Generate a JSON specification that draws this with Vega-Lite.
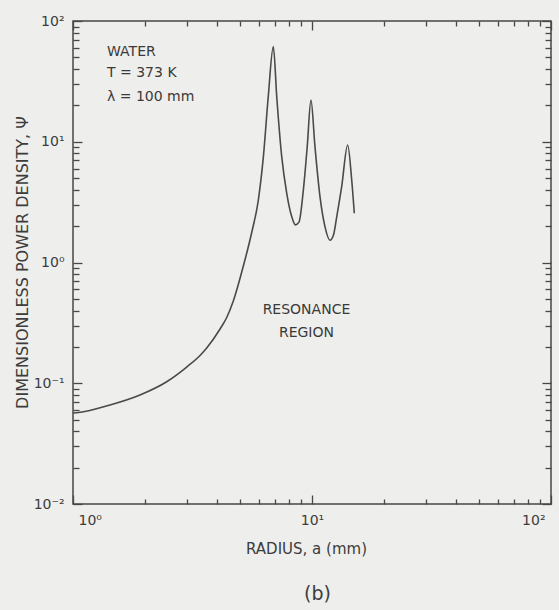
{
  "$schema": "https://vega.github.io/schema/vega-lite/v6.json",
  "width": 478,
  "height": 483,
  "autosize": {"type": "none"},
  "padding": {"left": 73, "top": 21, "right": 8, "bottom": 106},
  "background": "#eeeeec",
  "config": {
    "view": {"stroke": "#474747", "strokeWidth": 1.5},
    "font": "DejaVu Sans",
    "axis": {
      "domain": false,
      "grid": false,
      "labelColor": "#3c3c3c",
      "titleColor": "#3c3c3c",
      "tickColor": "#474747",
      "tickWidth": 1.3,
      "labelFont": "DejaVu Sans",
      "titleFont": "DejaVu Sans",
      "titleFontWeight": "normal"
    }
  },
  "datasets": {
    "curve": [
      {"a": 1.0, "psi": 0.0567},
      {"a": 1.036, "psi": 0.057},
      {"a": 1.428, "psi": 0.0661},
      {"a": 1.906, "psi": 0.08},
      {"a": 2.466, "psi": 0.103},
      {"a": 2.99, "psi": 0.1363},
      {"a": 3.4, "psi": 0.1698},
      {"a": 3.626, "psi": 0.1959},
      {"a": 4.123, "psi": 0.2812},
      {"a": 4.397, "psi": 0.3504},
      {"a": 4.686, "psi": 0.48},
      {"a": 5.161, "psi": 0.935},
      {"a": 5.595, "psi": 1.772},
      {"a": 5.963, "psi": 3.29},
      {"a": 6.26, "psi": 7.52},
      {"a": 6.56, "psi": 23.6},
      {"a": 6.89, "psi": 61.3},
      {"a": 7.12, "psi": 23.6},
      {"a": 7.47, "psi": 7.52},
      {"a": 7.84, "psi": 3.74},
      {"a": 8.23, "psi": 2.39},
      {"a": 8.52, "psi": 2.05},
      {"a": 8.82, "psi": 2.16},
      {"a": 9.2, "psi": 3.98},
      {"a": 9.55, "psi": 9.1},
      {"a": 9.9, "psi": 22.2},
      {"a": 10.29, "psi": 9.1},
      {"a": 10.8, "psi": 3.51},
      {"a": 11.33, "psi": 1.98},
      {"a": 11.89, "psi": 1.53},
      {"a": 12.3, "psi": 1.69},
      {"a": 12.69, "psi": 2.39},
      {"a": 13.31, "psi": 4.24},
      {"a": 14.1, "psi": 9.4},
      {"a": 14.66, "psi": 4.82},
      {"a": 15.03, "psi": 2.56}
    ],
    "conditions": [
      {"a": 1.388, "psi": 55.3, "label": "WATER"},
      {"a": 1.388, "psi": 37.1, "label": "T = 373 K"},
      {"a": 1.388, "psi": 23.5, "label": "λ = 100 mm"}
    ],
    "region": [
      {"a": 9.48, "psi": 0.404, "label": "RESONANCE"},
      {"a": 9.48, "psi": 0.261, "label": "REGION"}
    ]
  },
  "resolve": {"axis": {"x": "independent", "y": "independent"}},
  "layer": [
    {
      "data": {"name": "curve"},
      "mark": {"type": "line", "interpolate": "monotone", "color": "#4a4a4a", "strokeWidth": 1.6},
      "encoding": {
        "x": {
          "field": "a", "type": "quantitative",
          "scale": {"type": "log", "domain": [1, 100], "nice": false},
          "axis": {
            "orient": "bottom",
            "offset": -9,
            "values": [1, 10, 100],
            "tickSize": 9,
            "labelExpr": "datum.value == 1 ? '10⁰' : datum.value == 10 ? '10¹' : '10²'",
            "labelFontSize": 14,
            "labelPadding": 9,
            "labelOffset": {"condition": [{"test": "datum.value == 1", "value": 5}, {"test": "datum.value == 100", "value": -6}], "value": 0},
            "title": "RADIUS, a (mm)",
            "titleFontSize": 15,
            "titleX": 233,
            "titleY": 53,
            "titleBaseline": "middle"
          }
        },
        "y": {
          "field": "psi", "type": "quantitative",
          "scale": {"type": "log", "domain": [0.01, 100], "nice": false},
          "axis": {
            "orient": "left",
            "offset": -9,
            "values": [0.01, 0.1, 1, 10, 100],
            "tickSize": 9,
            "labelExpr": "datum.value == 0.01 ? '10⁻²' : datum.value == 0.1 ? '10⁻¹' : datum.value == 1 ? '10⁰' : datum.value == 10 ? '10¹' : '10²'",
            "labelFontSize": 14,
            "labelPadding": 9,
            "title": "DIMENSIONLESS POWER DENSITY, Ψ",
            "titleFontSize": 16,
            "titleAngle": -90,
            "titleX": -60,
            "titleY": 241,
            "titleAlign": "center",
            "titleBaseline": "middle"
          }
        }
      }
    },
    {
      "data": {"name": "conditions"},
      "mark": {"type": "text", "align": "left", "baseline": "middle", "fontSize": 14, "color": "#3a3a3a"},
      "encoding": {
        "x": {
          "field": "a", "type": "quantitative",
          "scale": {"type": "log", "domain": [1, 100], "nice": false},
          "axis": {
            "orient": "bottom",
            "offset": -5,
            "labels": false,
            "values": [2, 3, 4, 5, 6, 7, 8, 9, 20, 30, 40, 50, 60, 70, 80, 90],
            "tickSize": 5,
            "title": "(b)",
            "titleFontSize": 19,
            "titleX": 244,
            "titleY": 94,
            "titleBaseline": "middle"
          }
        },
        "y": {
          "field": "psi", "type": "quantitative",
          "scale": {"type": "log", "domain": [0.01, 100], "nice": false},
          "axis": {
            "orient": "left",
            "offset": -6,
            "labels": false,
            "title": null,
            "values": [0.02, 0.03, 0.04, 0.05, 0.06, 0.07, 0.08, 0.09, 0.2, 0.3, 0.4, 0.5, 0.6, 0.7, 0.8, 0.9, 2, 3, 4, 5, 6, 7, 8, 9, 20, 30, 40, 50, 60, 70, 80, 90],
            "tickSize": 6
          }
        },
        "text": {"field": "label"}
      }
    },
    {
      "data": {"name": "region"},
      "transform": [{"filter": "datum.label == 'RESONANCE'"}],
      "mark": {"type": "text", "align": "center", "baseline": "middle", "fontSize": 14, "color": "#3a3a3a"},
      "encoding": {
        "x": {
          "field": "a", "type": "quantitative",
          "scale": {"type": "log", "domain": [1, 100], "nice": false},
          "axis": {
            "orient": "top",
            "offset": -5,
            "labels": false,
            "title": null,
            "values": [2, 3, 4, 5, 6, 7, 8, 9, 20, 30, 40, 50, 60, 70, 80, 90],
            "tickSize": 5
          }
        },
        "y": {
          "field": "psi", "type": "quantitative",
          "scale": {"type": "log", "domain": [0.01, 100], "nice": false},
          "axis": {
            "orient": "right",
            "offset": -6,
            "labels": false,
            "title": null,
            "values": [0.02, 0.03, 0.04, 0.05, 0.06, 0.07, 0.08, 0.09, 0.2, 0.3, 0.4, 0.5, 0.6, 0.7, 0.8, 0.9, 2, 3, 4, 5, 6, 7, 8, 9, 20, 30, 40, 50, 60, 70, 80, 90],
            "tickSize": 6
          }
        },
        "text": {"field": "label"}
      }
    },
    {
      "data": {"name": "region"},
      "transform": [{"filter": "datum.label == 'REGION'"}],
      "mark": {"type": "text", "align": "center", "baseline": "middle", "fontSize": 14, "color": "#3a3a3a"},
      "encoding": {
        "x": {
          "field": "a", "type": "quantitative",
          "scale": {"type": "log", "domain": [1, 100], "nice": false},
          "axis": {
            "orient": "top",
            "offset": -9,
            "labels": false,
            "title": null,
            "values": [1, 10, 100],
            "tickSize": 9
          }
        },
        "y": {
          "field": "psi", "type": "quantitative",
          "scale": {"type": "log", "domain": [0.01, 100], "nice": false},
          "axis": {
            "orient": "right",
            "offset": -9,
            "labels": false,
            "title": null,
            "values": [0.01, 0.1, 1, 10, 100],
            "tickSize": 9
          }
        },
        "text": {"field": "label"}
      }
    }
  ]
}
